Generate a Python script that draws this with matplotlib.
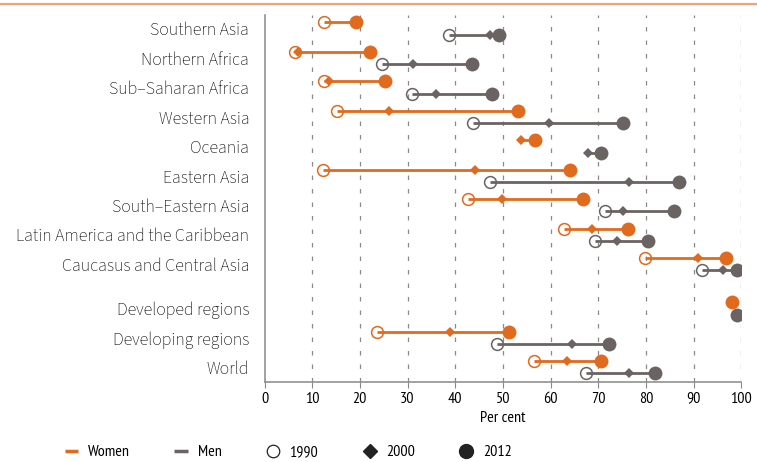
import numpy as np
import matplotlib
matplotlib.use("Agg")
import matplotlib.pyplot as plt
from matplotlib.lines import Line2D
from matplotlib import font_manager

# regions, top to bottom
regions = ["Southern Asia", "Northern Africa", "Sub\u2013Saharan Africa", "Western Asia",
           "Oceania", "Eastern Asia", "South\u2013Eastern Asia",
           "Latin America and the Caribbean", "Caucasus and Central Asia",
           "Developed regions", "Developing regions", "World"]
row_pos = [0, 1, 2, 3, 4, 5, 6, 7, 8, 9.5, 10.5, 11.5]

nan = np.nan
women_1990 = [12.5, 6.3, 12.5, 15.2, nan, 12.2, 42.6, 62.9, 79.9, nan, 23.5, 56.6]
women_2000 = [nan, 7.0, 13.6, 26.1, 53.8, 44.1, 49.8, 68.7, 90.9, nan, 39.0, 63.4]
women_2012 = [19.2, 22.1, 25.2, 53.1, 56.8, 64.0, 66.7, 76.2, 96.8, 98.1, 51.3, 70.5]

men_1990 = [38.7, 24.7, 31.0, 43.8, nan, 47.3, 71.4, 69.4, 91.7, nan, 48.7, 67.5]
men_2000 = [47.3, 31.1, 35.9, 59.6, 67.8, 76.5, 75.2, 74.0, 96.1, nan, 64.4, 76.4]
men_2012 = [49.2, 43.6, 47.8, 75.2, 70.6, 87.0, 85.9, 80.5, 99.0, 99.0, 72.3, 81.9]

xticks = [0, 10, 20, 30, 40, 50, 60, 70, 80, 90, 100]
legend_labels = ["Women", "Men", "1990", "2000", "2012"]

orange = "#E06A1E"
grey = "#6B6361"

available = {f.name for f in font_manager.fontManager.ttflist}
def pick(cands):
    return next((c for c in cands if c in available), "DejaVu Sans")

regular = pick(["Source Sans 3", "Source Sans Pro", "PT Sans", "Liberation Sans"])
narrow = pick(["PT Sans Narrow", "Liberation Sans Narrow", "Roboto Condensed",
               "Archivo Narrow", "Open Sans Condensed", "Fira Sans Condensed",
               "Barlow Semi Condensed", "Asap Condensed"])

fig = plt.figure(figsize=(7.57, 4.62), dpi=100)
ax = fig.add_axes([264.5/757, 1-382/462, (741.3-264.5)/757, (382-15)/462])

# thin orange rule across the top
fig.add_artist(Line2D([0, 1], [1-4/462, 1-4/462], color="#EFA57A", lw=1.6,
                      transform=fig.transFigure))

for x in xticks[1:]:
    ax.axvline(x, color="#8A8A8A", lw=0.9, dashes=(3.6, 7.2), zorder=0)

series = [(women_1990, women_2000, women_2012, orange, -0.21),
          (men_1990, men_2000, men_2012, grey, 0.21)]
for s90, s00, s12, col, off in series:
    for i, y0 in enumerate(row_pos):
        y = y0 + off
        vals = [v for v in (s90[i], s00[i], s12[i]) if not np.isnan(v)]
        if len(vals) > 1:
            ax.plot([min(vals), max(vals)], [y, y], color=col, lw=2.0, zorder=2,
                    solid_capstyle="butt")
        if not np.isnan(s90[i]):
            ax.plot(s90[i], y, marker="o", ms=8.5, mfc="none", mec=col, mew=1.1, zorder=3)
        if not np.isnan(s00[i]):
            ax.plot(s00[i], y, marker="D", ms=5.5, color=col, mew=0, zorder=4)
        ax.plot(s12[i], y, marker="o", ms=10, color=col, mew=0, zorder=5)

ax.set_xlim(0, 100)
ax.set_ylim(12.0, -0.46)
ax.set_xticks(xticks)
ax.set_xticklabels([str(t) for t in xticks], family=narrow, fontsize=11.5)
ax.set_yticks(row_pos)
ax.set_yticklabels(regions, fontsize=12.8, family=regular)
ax.tick_params(axis="y", length=0, pad=11)
ax.tick_params(axis="x", length=4, width=0.8, color="#888888", pad=3)
ax.set_xlabel("Per cent", family=narrow, fontsize=11.5, labelpad=4)

for side in ["top", "right"]:
    ax.spines[side].set_visible(False)
for side in ["left", "bottom"]:
    ax.spines[side].set_color("#888888")
    ax.spines[side].set_linewidth(1.1)

handles = [Line2D([], [], color=orange, lw=2.5, solid_capstyle="butt"),
           Line2D([], [], color=grey, lw=2.5, solid_capstyle="butt"),
           Line2D([], [], ls="none", marker="o", ms=9, mfc="none", mec="#222222", mew=0.9),
           Line2D([], [], ls="none", marker="D", ms=7, color="#222222"),
           Line2D([], [], ls="none", marker="o", ms=10, color="#222222")]
fig.legend(handles, legend_labels, ncol=5,
           loc="center", bbox_to_anchor=(288/757, 1-452/462), frameon=False,
           prop={"family": narrow, "size": 11.5}, handlelength=0.85,
           handletextpad=0.6, columnspacing=2.8)

fig.savefig("out.png", dpi=100)
